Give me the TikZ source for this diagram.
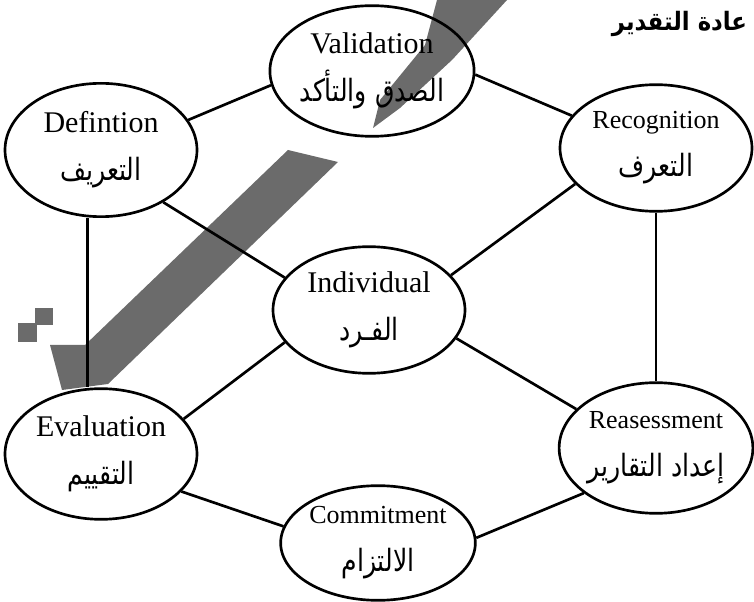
\documentclass[tikz,border=0pt]{standalone}
\usepackage{fontspec}
\setmainfont{Liberation Serif}
\newfontfamily\arabicfont[Script=Arabic, FakeStretch=0.82]{DejaVu Sans}
\newfontfamily\titlefont[Script=Arabic, FakeStretch=0.9]{DejaVu Sans}
\TeXXeTstate=1
\usetikzlibrary{shapes.geometric}
\tikzset{every picture/.style={line width=0.75pt}}
\tikzset{
  stage/.style={draw, ellipse, line width=2pt, inner sep=0pt, minimum width=144pt, minimum height=98pt, align=center, font=\fontsize{22.5}{36}\selectfont},
  slim/.style={font=\fontsize{19.5}{36}\selectfont},
  link/.style={line width=2pt},
  smudge/.style={fill=black!58, draw=none}
}
\newcommand{\arlabel}[1]{{\arabicfont\fontsize{23}{36}\selectfont\beginR #1\endR}}

\begin{document}
\begin{tikzpicture}[x=0.75pt,y=0.75pt,yscale=-1,xscale=1]
\useasboundingbox (0,0) rectangle (754,602);

%Shape: marker smudges
\fill[smudge] (437,0) -- (507,0) -- (452,60) -- (400,108) -- (373,128) -- (380,100) -- (425,45) -- cycle ;
\fill[smudge] (288,150) -- (338,162) -- (108,384) -- (62,390) -- (50,345) -- (85,345) -- cycle ;
\fill[smudge] (35,308) rectangle (53,325) ;
\fill[smudge] (18,323) rectangle (37,342) ;

%Shape: Ellipses
\node[stage] (valid) at (372,71) {Validation\\\arlabel{الصدق والتأكد}};
\node[stage, minimum height=100pt] (defn) at (101,150) {Defintion\\\arlabel{التعريف}};
\node[stage, slim, minimum height=95pt] (recog) at (656,148) {Recognition\\\arlabel{التعرف}};
\node[stage, minimum height=95pt] (indiv) at (369,310) {Individual\\\arlabel{الفـرد}};
\node[stage] (evalu) at (101,454) {Evaluation\\\arlabel{التقييم}};
\node[stage, slim] (reass) at (656,448) {Reasessment\\\arlabel{إعداد التقارير}};
\node[stage, slim, minimum width=146pt, minimum height=86pt] (commit) at (378,543) {Commitment\\\arlabel{الالتزام}};

%Straight Lines
\draw[link] (defn.19) -- (valid.188) ;
\draw[link] (valid.-2) -- (recog.159) ;
\draw[link] (defn.-40) -- (indiv.159) ;
\draw[link] (recog.204) -- (indiv.23) ;
\draw[link] (indiv.201) -- (evalu.23) ;
\draw[link] (indiv.-18) -- (reass.154) ;
\draw[link] (evalu.-25) -- (commit.170) ;
\draw[link] (commit.3) -- (reass.212) ;
\draw[link] ([xshift=-10pt]defn.south) -- ([xshift=-10pt]evalu.north) ;
\draw[link] (recog.south) -- (reass.north) ;

% Text Node
\node[anchor=east, font=\titlefont\bfseries\fontsize{19}{24}\selectfont] (title) at (752,24) {\beginR عادة التقدير\endR};

\end{tikzpicture}
\end{document}
